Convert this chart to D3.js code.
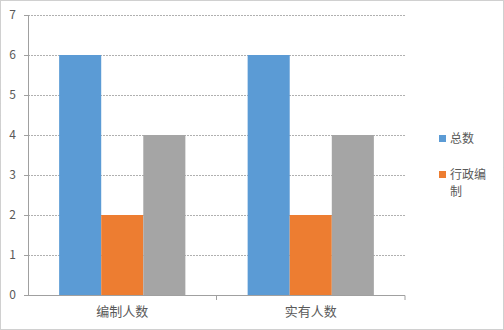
<!DOCTYPE html>
<html>
<head>
<meta charset="utf-8">
<script src="https://cdn.jsdelivr.net/npm/d3@7"></script>
<style>
  body { margin: 0; background: #fff; }
  text { font-family: "Noto Sans CJK SC", "DejaVu Sans", sans-serif; fill: #595959; }
</style>
</head>
<body>
<div id="chart-area"></div>
<script>
// DATA
const categories = ["编制人数", "实有人数"]
const seriesNames = ["总数", "行政编制", ""]
const totalValues = [6, 6]
const adminValues = [2, 2]
const otherValues = [4, 4]
const yTicks = [0, 1, 2, 3, 4, 5, 6, 7]

const colors = ["#5B9BD5", "#ED7D31", "#A5A5A5"]
const seriesValues = [totalValues, adminValues, otherValues]

// CHART AREA
const W = 504, H = 330
const margin = { left: 28, right: 99, top: 15, bottom: 35 }
const width = W - margin.left - margin.right
const height = H - margin.top - margin.bottom

const svg = d3.select("#chart-area")
  .append("svg")
    .attr("width", W)
    .attr("height", H)

// outer dotted frame
svg.append("rect")
  .attr("x", 0.5).attr("y", 0.5)
  .attr("width", W - 1).attr("height", H - 1)
  .attr("fill", "none")
  .attr("stroke", "#a0a0a0")
  .attr("stroke-dasharray", "1,1")

const chart = svg.append("g")
  .attr("transform", "translate(" + margin.left + "," + margin.top + ")")

const xScale = d3.scaleBand()
  .domain(categories)
  .range([0, width])

const xInner = d3.scaleBand()
  .domain(d3.range(seriesValues.length))
  .range([0, xScale.bandwidth()])
  .paddingOuter(0.74)

const yScale = d3.scaleLinear()
  .domain([0, 7])
  .range([height, 0])

// gridlines
chart.append("g")
  .selectAll("line")
  .data(yTicks.filter(d => d > 0))
  .enter().append("line")
    .attr("x1", 0).attr("x2", width)
    .attr("y1", d => Math.round(yScale(d)) + 0.5)
    .attr("y2", d => Math.round(yScale(d)) + 0.5)
    .attr("stroke", "#b0b0b0")
    .attr("stroke-dasharray", "2,1")

// bars
const groups = chart.selectAll(".grp")
  .data(categories)
  .enter().append("g")
    .attr("class", "grp")
    .attr("transform", d => "translate(" + xScale(d) + ",0)")

groups.selectAll("rect")
  .data((c, ci) => seriesValues.map((vals, si) => ({ si: si, v: vals[ci] })))
  .enter().append("rect")
    .attr("x", d => xInner(d.si))
    .attr("width", xInner.bandwidth())
    .attr("y", d => yScale(d.v))
    .attr("height", d => height - yScale(d.v))
    .attr("fill", d => colors[d.si])

// axes
const yAxisCall = d3.axisLeft(yScale).tickValues(yTicks).tickFormat(d3.format("d")).tickSize(4).tickPadding(8)
const yAxis = chart.append("g").attr("class", "y-axis").call(yAxisCall)
yAxis.select(".domain").attr("stroke", "#a0a0a0").attr("d", "M0.5," + height + "V0")
yAxis.selectAll(".tick line").attr("stroke", "#a0a0a0")
yAxis.selectAll("text").attr("font-size", "12px").style("fill", "#595959")

const xAxisCall = d3.axisBottom(xScale).tickSize(0).tickPadding(12)
const xAxis = chart.append("g")
  .attr("class", "x-axis")
  .attr("transform", "translate(0," + height + ")")
  .call(xAxisCall)
xAxis.select(".domain").attr("stroke", "#a0a0a0").attr("d", "M0,0.5H" + width + "V5")
xAxis.selectAll("text").attr("font-size", "13px").style("fill", "#595959")
// tick between categories
xAxis.append("line")
  .attr("x1", xScale.bandwidth()).attr("x2", xScale.bandwidth())
  .attr("y1", 0).attr("y2", 5)
  .attr("stroke", "#a0a0a0")

// LEGEND
const legendItems = [
  { lines: ["总数"], color: colors[0], y: 139 },
  { lines: ["行政编", "制"], color: colors[1], y: 175 }
]
const legend = svg.append("g").attr("class", "legend")
legendItems.forEach(item => {
  legend.append("rect")
    .attr("x", 439).attr("y", item.y - 4)
    .attr("width", 7).attr("height", 7)
    .attr("fill", item.color)
  item.lines.forEach((ln, i) => {
    legend.append("text")
      .attr("x", 450)
      .attr("y", item.y + i * 17)
      .attr("dy", "0.35em")
      .attr("font-size", "12px")
      .text(ln)
  })
})
</script>
</body>
</html>
